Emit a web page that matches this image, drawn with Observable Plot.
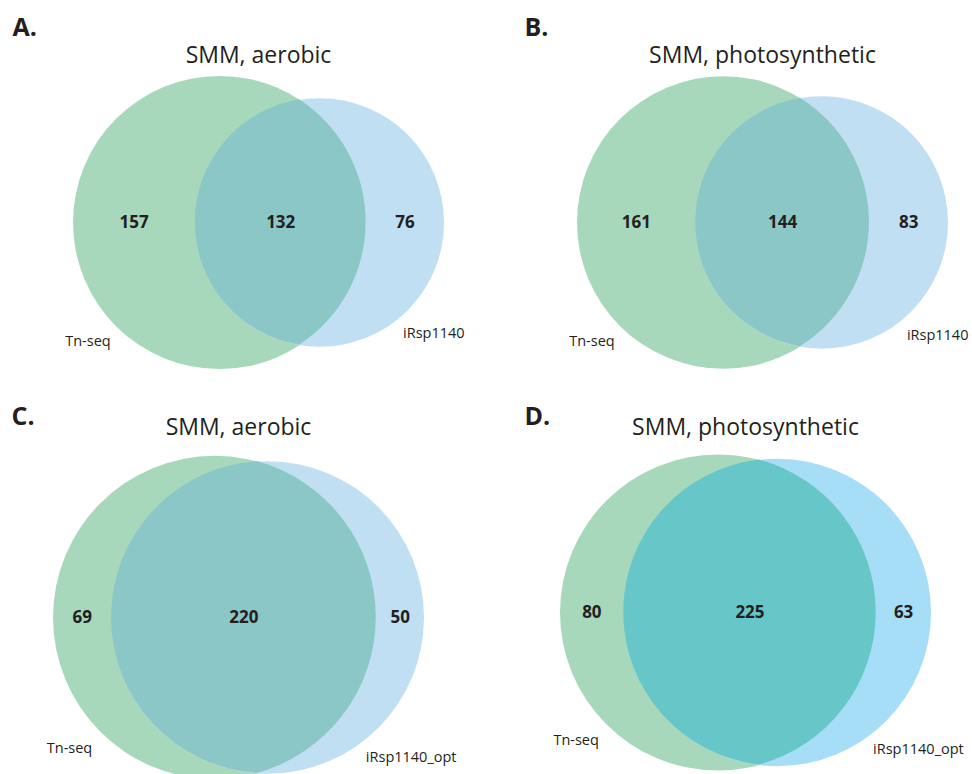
<!DOCTYPE html>
<html>
<head>
<meta charset="utf-8">
<script src="https://cdn.jsdelivr.net/npm/d3@7"></script>
<script src="https://cdn.jsdelivr.net/npm/@observablehq/plot@0.6"></script>
<style>
  html, body { margin: 0; padding: 0; background: #fff; }
  #grid {
    display: grid;
    grid-template-columns: 486px 486px;
    grid-template-rows: 387px 387px;
    width: 972px;
    height: 774px;
    overflow: hidden;
  }
  #grid svg { display: block; overflow: visible; }
</style>
</head>
<body>
<div id="grid"></div>
<script>
// Essential-gene overlaps: Tn-seq versus model predictions, two growth conditions
const panelLabels = ["A.", "B.", "C.", "D."];
const titles = ["SMM, aerobic", "SMM, photosynthetic", "SMM, aerobic", "SMM, photosynthetic"];
const leftSets = ["Tn-seq", "Tn-seq", "Tn-seq", "Tn-seq"];
const rightSets = ["iRsp1140", "iRsp1140", "iRsp1140_opt", "iRsp1140_opt"];
const leftOnly = [157, 161, 69, 80];
const shared = [132, 144, 220, 225];
const rightOnly = [76, 83, 50, 63];

// Panel placement and colours
const W = 486, H = 387;
const diagramWidth = 371;
const layout = [
  {cx: 258, cy: 222, titleY: 62, letterX: 12, letterY: 35},
  {cx: 276, cy: 222, titleY: 62, letterX: 38, letterY: 35},
  {cx: 238, cy: 230, titleY: 47, letterX: 11, letterY: 37},
  {cx: 259, cy: 225, titleY: 47, letterX: 38, letterY: 37}
];
const palettes = [
  {left: "#a8d8bb", right: "#c1dff3", both: "#8ac7c6"},
  {left: "#a8d8bb", right: "#c1dff3", both: "#8ac7c6"},
  {left: "#a8d8bb", right: "#c1dff3", both: "#8ac7c6"},
  {left: "#a8d8bb", right: "#a6ddf7", both: "#67c7c8"}
];
const ink = "#231f20";
const font = "'Open Sans', 'Noto Sans', sans-serif";

// Area of the lens shared by two circles with radii r1, r2 and centre distance d
function lensArea(r1, r2, d) {
  if (d >= r1 + r2) return 0;
  if (d <= Math.abs(r1 - r2)) return Math.PI * Math.min(r1, r2) ** 2;
  const a1 = Math.acos((d * d + r1 * r1 - r2 * r2) / (2 * d * r1));
  const a2 = Math.acos((d * d + r2 * r2 - r1 * r1) / (2 * d * r2));
  const k = Math.sqrt((-d + r1 + r2) * (d + r1 - r2) * (d - r1 + r2) * (d + r1 + r2));
  return r1 * r1 * a1 + r2 * r2 * a2 - 0.5 * k;
}

// Area-proportional two-set layout, fitted to the panel width
function vennGeometry(i) {
  const nL = leftOnly[i] + shared[i];
  const nR = rightOnly[i] + shared[i];
  const r1 = Math.sqrt(nL / Math.PI), r2 = Math.sqrt(nR / Math.PI);
  let lo = Math.abs(r1 - r2), hi = r1 + r2;
  for (let it = 0; it < 100; ++it) {
    const mid = (lo + hi) / 2;
    if (lensArea(r1, r2, mid) > shared[i]) lo = mid; else hi = mid;
  }
  const d = (lo + hi) / 2;
  const k = diagramWidth / (r1 + d + r2);
  const {cx, cy} = layout[i];
  const x1 = cx - diagramWidth / 2 + r1 * k;
  return {x1, x2: x1 + d * k, y: cy, r1: r1 * k, r2: r2 * k, d: d * k};
}

// The shared lens, drawn as two arcs through the circles' crossing points
function lensMark(g, fill) {
  return (index, scales) => {
    const a = (g.d * g.d + g.r1 * g.r1 - g.r2 * g.r2) / (2 * g.d);
    const h = Math.sqrt(Math.max(0, g.r1 * g.r1 - a * a));
    const xs = scales.x(g.x1 + a);
    const yt = scales.y(g.y - h), yb = scales.y(g.y + h);
    const large1 = a < 0 ? 1 : 0;
    const large2 = (g.d - a) < 0 ? 1 : 0;
    const p = `M${xs},${yt} A${g.r1},${g.r1} 0 ${large1} 1 ${xs},${yb} A${g.r2},${g.r2} 0 ${large2} 1 ${xs},${yt} Z`;
    const el = document.createElementNS("http://www.w3.org/2000/svg", "path");
    el.setAttribute("d", p);
    el.setAttribute("fill", fill);
    return el;
  };
}

const grid = document.getElementById("grid");

panelLabels.forEach((label, i) => {
  const g = vennGeometry(i);
  const pal = palettes[i];
  const L = layout[i];

  const counts = [
    {x: (g.x1 - g.r1 + g.x2 - g.r2) / 2, value: leftOnly[i]},
    {x: (g.x2 - g.r2 + g.x1 + g.r1) / 2, value: shared[i]},
    {x: (g.x1 + g.r1 + g.x2 + g.r2) / 2, value: rightOnly[i]}
  ];
  const setNames = [
    {x: g.x1 - 0.898 * g.r1, y: g.y + 0.811 * g.r1, name: leftSets[i]},
    {x: g.x2 + 0.918 * g.r2, y: g.y + 0.892 * g.r2, name: rightSets[i]}
  ];

  const chart = Plot.plot({
    width: W,
    height: H,
    margin: 0,
    style: {fontFamily: font, background: "transparent"},
    x: {domain: [0, W], range: [0, W], axis: null},
    y: {domain: [0, H], range: [0, H], axis: null},
    marks: [
      Plot.dot([g], {x: "x1", y: "y", r: g.r1, fill: pal.left, stroke: null}),
      Plot.dot([g], {x: "x2", y: "y", r: g.r2, fill: pal.right, stroke: null}),
      lensMark(g, pal.both),
      Plot.text(counts, {
        x: "x", y: () => g.y, text: d => String(d.value),
        fontSize: 17, fontWeight: "bold", fill: ink, textAnchor: "middle"
      }),
      Plot.text(setNames, {
        x: "x", y: "y", text: "name",
        fontSize: 14.5, fill: ink, textAnchor: "middle"
      }),
      Plot.text([titles[i]], {
        x: () => L.cx, y: () => L.titleY - 0.32 * 23, text: d => d,
        fontSize: 23, fill: ink, textAnchor: "middle"
      }),
      Plot.text([label], {
        x: () => L.letterX, y: () => L.letterY - 0.32 * 25, text: d => d,
        fontSize: 25, fontWeight: "bold", fill: ink, textAnchor: "start"
      })
    ]
  });
  grid.appendChild(chart);
});
</script>
</body>
</html>
